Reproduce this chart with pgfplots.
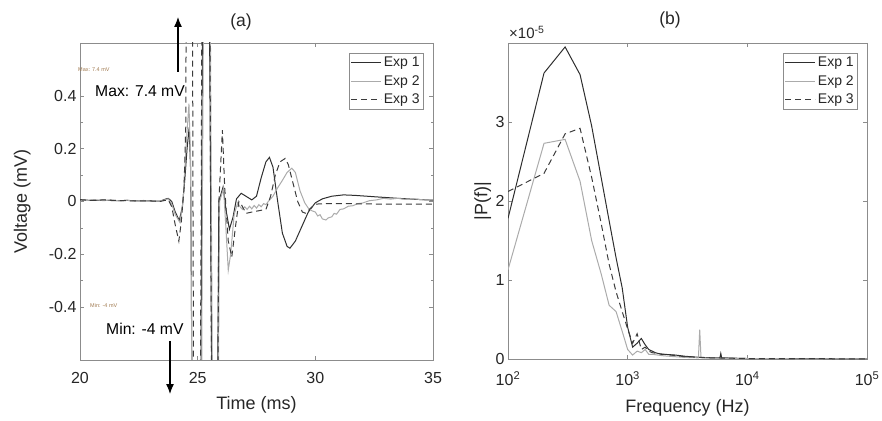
\documentclass[border=0pt]{standalone}
\usepackage{pgfplots}
\pgfplotsset{compat=1.18}
\usepackage{fontspec}
\setmainfont{Liberation Sans}
\usetikzlibrary{arrows.meta}
\definecolor{cOne}{HTML}{2E2E2E}
\definecolor{cTwo}{HTML}{ABABAB}
\definecolor{cThree}{HTML}{3C3C3C}
\definecolor{axgray}{HTML}{8C8C8C}
\definecolor{txt}{HTML}{262626}
\definecolor{tip}{HTML}{A07A50}

\pgfplotsset{
  mat/.style={
    scale only axis,
    axis line style={axgray, line width=0.7pt},
    every tick/.style={axgray, line width=0.6pt},
    major tick length=4pt, minor tick length=2.5pt,
    tick align=inside,
    ticklabel style={font=\fontsize{16}{18}\selectfont, text=txt},
    xticklabel style={yshift=-9pt},
    /pgf/number format/assume math mode=true,
    label style={font=\fontsize{18}{20}\selectfont, text=txt},
    legend cell align=right,
    legend style={at={(1,1)}, anchor=north east, xshift=-9pt, yshift=-10pt,
      draw=axgray, line width=0.6pt, font=\fontsize{14}{15}\selectfont, text=txt,
      row sep=3pt, inner sep=2pt, nodes={inner sep=2pt}},
    legend image code/.code={\draw[#1] (0pt,0pt) -- (30pt,0pt);},
  },
  e1/.style={cOne, line width=1pt},
  e2/.style={cTwo, line width=1pt},
  e3/.style={cThree, line width=1pt, dash pattern=on 6pt off 4pt},
}

\begin{document}
\begin{tikzpicture}[x=1pt,y=1pt]
\path[use as bounding box] (0,0) rectangle (882,420);

% ---------------- (a) ----------------
\begin{axis}[mat, at={(80pt,60pt)}, anchor=south west, width=353pt, height=317pt,
  xmin=20, xmax=35, ymin=-0.6, ymax=0.6,
  xtick={20,25,30,35}, ytick={-0.4,-0.2,0,0.2,0.4}, minor y tick num=1,
  yticklabel style={/pgf/number format/fixed, /pgf/number format/precision=1},
  xlabel={Time (ms)}, ylabel={Voltage (mV)},
  xlabel style={at={(axis description cs:0.5,-0.142)}, anchor=center},
  ylabel style={at={(axis description cs:-0.164,0.5)}, anchor=center},
]
\addplot[e1] coordinates {
(20.0,0.006)(20.5,0.004)(21.0,0.005)(21.5,0.003)(22.0,0.004)(22.5,0.002)(23.0,0.002)
(23.4,0.001)(23.6,0.008)(23.75,0.012)(23.9,0.0)(24.05,-0.04)(24.22,-0.072)(24.35,-0.02)
(24.45,0.08)(24.55,0.2)(24.64,0.28)(24.70,0.12)(24.85,-2.0)(25.0,-4.0)(25.17,0.0)
(25.35,3.0)(25.55,0.0)(25.72,-2.5)(25.9,0.0)(26.08,0.055)(26.2,-0.03)(26.35,-0.105)
(26.5,-0.06)(26.65,0.01)(26.85,0.031)(27.05,0.02)(27.3,0.006)(27.5,0.02)(27.7,0.09)
(27.9,0.15)(28.05,0.167)(28.2,0.13)(28.4,0.0)(28.6,-0.12)(28.8,-0.17)(28.92,-0.177)
(29.15,-0.15)(29.4,-0.1)(29.7,-0.04)(30.0,-0.005)(30.3,0.01)(30.7,0.02)(31.2,0.025)
(31.7,0.023)(32.5,0.018)(33.5,0.012)(34.3,0.008)(35.0,0.005)
};
\addlegendentry{Exp 1}
\addplot[e2] coordinates {
(20.0,0.008)(20.3,0.004)(20.6,0.007)(21.0,0.003)(21.3,0.006)(21.7,0.002)(22.0,0.005)
(22.4,0.001)(22.7,0.004)(23.0,0.0)(23.4,0.002)(23.6,0.006)(23.75,0.01)(23.9,-0.01)
(24.05,-0.05)(24.25,-0.08)(24.38,0.0)(24.5,0.2)(24.63,0.37)(24.70,0.15)(24.9,-3.0)
(25.05,-3.5)(25.2,0.0)(25.4,3.0)(25.58,0.0)(25.75,-2.5)(25.93,0.0)(26.1,0.05)
(26.2,-0.1)(26.3,-0.26)(26.4,-0.2)(26.55,-0.05)(26.7,-0.005)(26.8,-0.02)(26.9,-0.03)
(27.0,-0.02)(27.1,-0.03)(27.2,-0.018)(27.3,-0.028)(27.4,-0.015)(27.5,-0.025)(27.6,-0.012)
(27.7,-0.02)(27.8,-0.008)(27.9,-0.012)(28.0,0.0)(28.2,0.02)(28.4,0.052)(28.6,0.08)
(28.8,0.11)(29.0,0.126)(29.15,0.11)(29.35,0.04)(29.55,-0.005)(29.7,-0.025)(29.85,-0.035)
(30.0,-0.04)(30.1,-0.055)(30.2,-0.05)(30.3,-0.066)(30.45,-0.07)(30.55,-0.062)(30.7,-0.058)
(30.8,-0.045)(30.9,-0.048)(31.05,-0.03)(31.2,-0.028)(31.4,-0.018)(31.6,-0.016)
(31.8,-0.008)(32.0,-0.006)(32.3,0.003)(32.6,0.006)(32.9,0.012)(33.2,0.009)(33.5,0.012)
(33.8,0.008)(34.2,0.010)(34.6,0.006)(35.0,0.007)
};
\addlegendentry{Exp 2}
\addplot[e3] coordinates {
(20.0,0.007)(20.5,0.004)(21.0,0.006)(21.5,0.004)(22.0,0.003)(22.5,0.002)(23.0,0.002)
(23.4,0.0)(23.6,0.004)(23.75,0.006)(23.9,-0.02)(24.05,-0.09)(24.2,-0.15)(24.3,-0.08)
(24.42,0.05)(24.5,0.3)(24.62,7.4)(24.8,0.0)(24.95,-4.0)(25.15,0.0)(25.35,5.0)
(25.55,0.0)(25.72,-3.0)(25.9,0.0)(26.05,0.27)(26.15,0.05)(26.3,-0.15)(26.45,-0.21)
(26.6,-0.1)(26.75,0.0)(26.85,-0.01)(27.05,-0.045)(27.3,-0.04)(27.6,-0.035)(27.9,-0.03)
(28.1,0.02)(28.3,0.1)(28.5,0.15)(28.72,0.163)(28.85,0.14)(29.05,0.07)(29.25,0.0)
(29.45,-0.04)(29.6,-0.045)(29.8,-0.025)(30.0,-0.01)(30.5,-0.008)(31.0,-0.008)
(32.0,-0.009)(33.0,-0.01)(34.0,-0.01)(35.0,-0.01)
};
\addlegendentry{Exp 3}
\end{axis}

% ---------------- (b) ----------------
\begin{axis}[mat, at={(508pt,61pt)}, anchor=south west, width=359pt, height=316pt,
  xmode=log, log basis x=10, xmin=100, xmax=100000, ymin=0, ymax=4e-5,
  xtick={100,1000,10000,100000},
  xticklabels={10\textsuperscript{2},10\textsuperscript{3},10\textsuperscript{4},10\textsuperscript{5}},
  ytick={0,1e-5,2e-5,3e-5}, yticklabels={0,1,2,3}, scaled y ticks=false,
  xlabel={Frequency (Hz)}, ylabel={|P(f)|},
  xlabel style={at={(axis description cs:0.5,-0.155)}, anchor=center},
  ylabel style={at={(axis description cs:-0.07,0.5)}, anchor=center},
]
\addplot[e1] coordinates {
(100,1.78e-5)(200,3.62e-5)(300,3.95e-5)(400,3.6e-5)(500,2.95e-5)(600,2.3e-5)(700,1.75e-5)
(800,1.28e-5)(900,0.9e-5)(1000,0.4e-5)(1100,0.15e-5)(1200,0.2e-5)(1300,0.26e-5)
(1400,0.18e-5)(1500,0.12e-5)(1600,0.1e-5)(1700,0.08e-5)(1800,0.07e-5)(1900,0.06e-5)
(2000,0.06e-5)(2500,0.05e-5)(3000,0.035e-5)(4000,0.02e-5)(5000,0.015e-5)(5900,0.015e-5)
(6000,0.07e-5)(6100,0.015e-5)(8000,0.01e-5)(10000,0.006e-5)(20000,0.004e-5)
(50000,0.003e-5)(100000,0.002e-5)
};
\addlegendentry{Exp 1}
\addplot[e2] coordinates {
(100,1.13e-5)(200,2.73e-5)(300,2.78e-5)(400,2.25e-5)(500,1.5e-5)(600,1.08e-5)(700,0.68e-5)
(800,0.6e-5)(900,0.35e-5)(1000,0.12e-5)(1100,0.05e-5)(1200,0.1e-5)(1300,0.08e-5)
(1400,0.12e-5)(1500,0.06e-5)(1600,0.06e-5)(2000,0.04e-5)(3000,0.02e-5)(3900,0.015e-5)
(4000,0.37e-5)(4100,0.015e-5)(5000,0.01e-5)(10000,0.004e-5)(30000,0.003e-5)
(100000,0.002e-5)
};
\addlegendentry{Exp 2}
\addplot[e3] coordinates {
(100,2.12e-5)(200,2.35e-5)(300,2.85e-5)(400,2.92e-5)(500,2.3e-5)(600,1.72e-5)(700,1.2e-5)
(800,0.85e-5)(900,0.6e-5)(1000,0.38e-5)(1100,0.2e-5)(1200,0.32e-5)(1300,0.12e-5)
(1400,0.15e-5)(1500,0.1e-5)(1600,0.08e-5)(2000,0.06e-5)(3000,0.03e-5)(5000,0.015e-5)
(10000,0.006e-5)(100000,0.002e-5)
};
\addlegendentry{Exp 3}
\end{axis}

% titles and annotations
\node[font=\fontsize{17.5}{19}\selectfont, text=txt] at (241,398.5) {(a)};
\node[font=\fontsize{17.5}{19}\selectfont, text=txt] at (670,400) {(b)};
\node[font=\fontsize{15}{16}\selectfont, text=txt, anchor=base west, inner sep=0pt] at (509,381) {×10\textsuperscript{-5}};
\draw[line width=1.2pt, -{Latex[length=10pt,width=8pt]}] (178,348) -- (178,403);
\draw[line width=1.2pt, -{Latex[length=10pt,width=8pt]}] (170,79) -- (170,26);
\node[font=\fontsize{15.7}{17}\selectfont, text=black, anchor=base west, inner sep=0pt] at (95,323.5) {Max: 7.4 mV};
\node[font=\fontsize{15.7}{17}\selectfont, text=black, anchor=base west, inner sep=0pt] at (106,85.5) {Min: -4 mV};
\node[font=\fontsize{5.5}{6}\selectfont, text=tip, anchor=base west, inner sep=0pt] at (78,348.5) {Max: 7.4 mV};
\node[font=\fontsize{5.5}{6}\selectfont, text=tip, anchor=base west, inner sep=0pt] at (90,112) {Min: -4 mV};
\end{tikzpicture}
\end{document}
